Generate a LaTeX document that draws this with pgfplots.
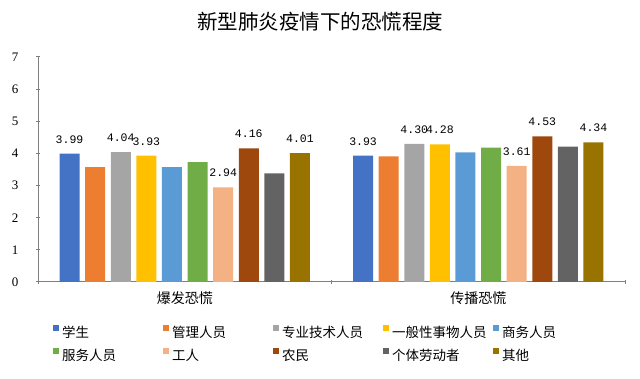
\documentclass[border=0pt]{standalone}
\usepackage{pgfplots}
\pgfplotsset{compat=1.18}
\usepackage{fontspec}
\setmainfont{Liberation Serif}
\newfontfamily\cjk{Noto Sans CJK SC}
\newfontfamily\mono{Liberation Mono}
\definecolor{c1}{HTML}{4472C4}
\definecolor{c2}{HTML}{ED7D31}
\definecolor{c3}{HTML}{A5A5A5}
\definecolor{c4}{HTML}{FFC000}
\definecolor{c5}{HTML}{5B9BD5}
\definecolor{c6}{HTML}{70AD47}
\definecolor{c7}{HTML}{F4B183}
\definecolor{c8}{HTML}{9E480E}
\definecolor{c9}{HTML}{636363}
\definecolor{c10}{HTML}{997300}
\definecolor{axgray}{HTML}{7F7F7F}
\pgfplotsset{
  lab/.style={nodes near coords={\mono\fontsize{11.5}{11.5}\selectfont\pgfplotspointmeta},
    point meta=explicit symbolic,
    nodes near coords style={anchor=base, inner sep=0pt, yshift=10.5pt, text=black}},
}
\newcommand{\legent}[1]{\makebox[104pt][l]{\hspace{3pt}#1}}
\begin{document}
\begin{tikzpicture}[x=1pt,y=1pt]
\path[use as bounding box] (0,0) rectangle (640,379);
\node[font=\cjk\fontsize{20.5}{20.5}\selectfont] at (320,357) {新型肺炎疫情下的恐慌程度};
\begin{axis}[
  at={(38pt,97pt)}, anchor=south west, scale only axis,
  width=587pt, height=225pt,
  ybar=5.6pt, bar width=20pt,
  xmin=-0.5, xmax=1.5, ymin=0, ymax=7,
  ytick={0,1,2,3,4,5,6,7},
  xtick={-0.5,0.5,1.5}, xticklabels={},
  extra x ticks={0,1}, extra x tick labels={爆发恐慌,传播恐慌},
  extra x tick style={major tick length=0pt},
  major tick length=4pt,
  tick style={draw=axgray, line width=1pt},
  tick align=inside,
  axis x line=bottom, axis y line=left,
  axis line style={-, draw=axgray, line width=1pt},
  /pgf/number format/assume math mode=true,
  yticklabel style={font=\fontsize{13}{13}\selectfont, xshift=-14pt},
  xticklabel style={font=\cjk\fontsize{14}{14}\selectfont, yshift=-6.5pt},
  clip=false,
  legend columns=5,
  legend cell align=left,
  legend style={at={(0.0256,-0.192)}, anchor=north west, draw=none, fill=none,
    inner sep=0pt, column sep=0pt, row sep=9pt,
    font=\cjk\fontsize{13.5}{13.5}\selectfont, nodes={inner sep=0pt}},
  legend image code/.code={\fill[#1] (0pt,1.5pt) rectangle (6pt,7.5pt);},
]
\addplot[fill=c1, draw=none, lab] coordinates {(0,3.99) [3.99] (1,3.93) [3.93]};
\addplot[fill=c2, draw=none] coordinates {(0,3.57) (1,3.91)};
\addplot[fill=c3, draw=none, lab] coordinates {(0,4.04) [4.04] (1,4.30) [4.30]};
\addplot[fill=c4, draw=none, lab] coordinates {(0,3.93) [3.93] (1,4.28) [4.28]};
\addplot[fill=c5, draw=none] coordinates {(0,3.57) (1,4.03)};
\addplot[fill=c6, draw=none] coordinates {(0,3.73) (1,4.18)};
\addplot[fill=c7, draw=none, lab] coordinates {(0,2.94) [2.94] (1,3.61) [3.61]};
\addplot[fill=c8, draw=none, lab] coordinates {(0,4.16) [4.16] (1,4.53) [4.53]};
\addplot[fill=c9, draw=none] coordinates {(0,3.38) (1,4.21)};
\addplot[fill=c10, draw=none, lab] coordinates {(0,4.01) [4.01] (1,4.34) [4.34]};
\legend{\legent{学生},\legent{管理人员},\legent{专业技术人员},\legent{一般性事物人员},\legent{商务人员},\legent{服务人员},\legent{工人},\legent{农民},\legent{个体劳动者},\legent{其他}}
\end{axis}
\end{tikzpicture}
\end{document}
